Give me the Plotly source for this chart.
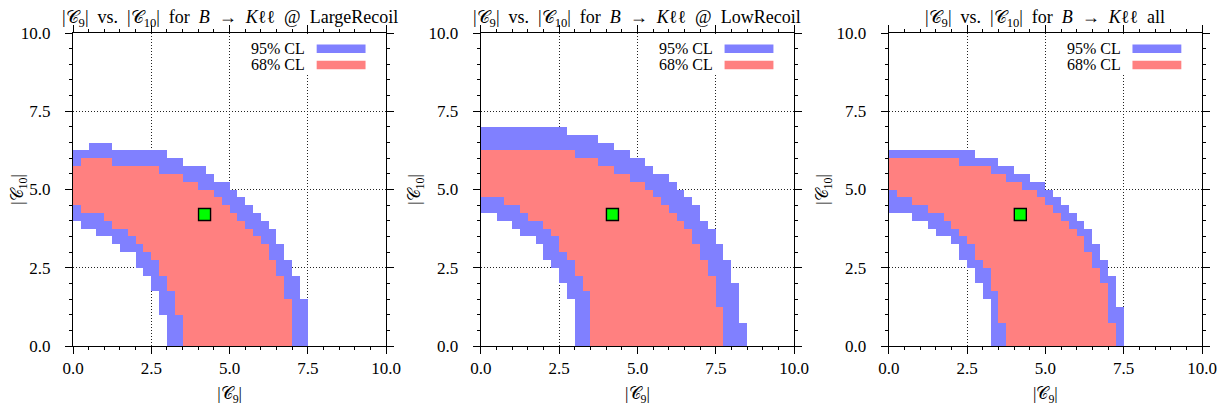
import numpy as np
import plotly.graph_objects as go
from plotly.subplots import make_subplots

# ---------------- data ----------------
bin_width = 0.25  # grid step of the scan in |C9| and |C10|

NB = "\u00a0"
panel_titles = [
    f"|𝒞<sub>9</sub>|{NB} vs.{NB} |𝒞<sub>10</sub>|{NB} for{NB} <i>B</i>{NB} →{NB} <i>K</i>ℓℓ{NB} @{NB} LargeRecoil",
    f"|𝒞<sub>9</sub>|{NB} vs.{NB} |𝒞<sub>10</sub>|{NB} for{NB} <i>B</i>{NB} →{NB} <i>K</i>ℓℓ{NB} @{NB} LowRecoil",
    f"|𝒞<sub>9</sub>|{NB} vs.{NB} |𝒞<sub>10</sub>|{NB} for{NB} <i>B</i>{NB} →{NB} <i>K</i>ℓℓ{NB} all",
]

# LargeRecoil: per |C9| bin (0.25 wide, starting at 0) upper / lower |C10| bound
large_95_hi = [6.25, 6.25, 6.5, 6.5, 6.5, 6.25, 6.25, 6.25, 6.25, 6.25, 6.25, 6.25, 6.0, 6.0, 5.75,
               5.75, 5.75, 5.5, 5.25, 5.25, 5.0, 4.75, 4.5, 4.25, 4.0, 3.75, 3.25, 2.75, 2.25, 1.5]
large_95_lo = [4.0, 3.75, 3.75, 3.5, 3.5, 3.25, 3.0, 3.0, 2.5, 2.25, 1.75, 1.0, 0, 0, 0,
               0, 0, 0, 0, 0, 0, 0, 0, 0, 0, 0, 0, 0, 0, 0]
large_68_hi = [5.75, 6.0, 6.0, 6.0, 6.0, 5.75, 5.75, 5.75, 5.75, 5.75, 5.75, 5.5, 5.5, 5.5,
               5.25, 5.25, 5.0, 5.0, 4.75, 4.5, 4.25, 4.0, 3.75, 3.5, 3.25, 2.75, 2.25, 1.5]
large_68_lo = [4.5, 4.25, 4.25, 4.25, 4.0, 3.75, 3.75, 3.5, 3.25, 3.0, 2.75, 2.25, 1.75, 1.0,
               0, 0, 0, 0, 0, 0, 0, 0, 0, 0, 0, 0, 0, 0]

# LowRecoil
low_95_hi = [7.0, 7.0, 7.0, 7.0, 7.0, 7.0, 7.0, 7.0, 7.0, 7.0, 7.0, 6.75, 6.75, 6.75, 6.75, 6.5, 6.5,
             6.25, 6.25, 6.0, 6.0, 5.75, 5.5, 5.5, 5.25, 5.0, 4.75, 4.5, 4.0, 3.75, 3.25, 2.75, 2.0, 0.75]
low_95_lo = [4.25, 4.25, 4.0, 4.0, 3.75, 3.5, 3.5, 3.25, 2.75, 2.5, 2.0, 1.5, 0, 0, 0, 0, 0,
             0, 0, 0, 0, 0, 0, 0, 0, 0, 0, 0, 0, 0, 0, 0, 0, 0]
low_68_hi = [6.25, 6.25, 6.25, 6.25, 6.25, 6.25, 6.25, 6.25, 6.25, 6.25, 6.25, 6.25, 6.0, 6.0, 6.0,
             5.75, 5.75, 5.5, 5.5, 5.25, 5.25, 5.0, 4.75, 4.5, 4.25, 4.0, 3.75, 3.25, 2.75, 2.25, 1.25]
low_68_lo = [4.75, 4.75, 4.75, 4.5, 4.5, 4.25, 4.0, 4.0, 3.75, 3.5, 3.0, 2.75, 2.25, 1.75, 0,
             0, 0, 0, 0, 0, 0, 0, 0, 0, 0, 0, 0, 0, 0, 0, 0]

# all
all_95_hi = [6.25, 6.25, 6.25, 6.25, 6.25, 6.25, 6.25, 6.25, 6.25, 6.25, 6.25, 6.0, 6.0, 6.0, 5.75,
             5.75, 5.5, 5.5, 5.25, 5.25, 5.0, 4.75, 4.5, 4.25, 4.0, 3.75, 3.25, 2.75, 2.25, 1.25]
all_95_lo = [4.25, 4.25, 4.25, 4.0, 4.0, 3.75, 3.5, 3.5, 3.25, 2.75, 2.5, 2.0, 1.5, 0, 0,
             0, 0, 0, 0, 0, 0, 0, 0, 0, 0, 0, 0, 0, 0, 0]
all_68_hi = [6.0, 6.0, 6.0, 6.0, 6.0, 6.0, 6.0, 6.0, 6.0, 5.75, 5.75, 5.75, 5.75, 5.5, 5.5,
             5.25, 5.25, 5.0, 5.0, 4.75, 4.5, 4.25, 4.0, 3.75, 3.5, 3.0, 2.5, 2.0, 0.75]
all_68_lo = [5.0, 4.75, 4.75, 4.5, 4.5, 4.25, 4.25, 4.0, 3.75, 3.5, 3.25, 2.75, 2.5, 1.75, 0.75,
             0, 0, 0, 0, 0, 0, 0, 0, 0, 0, 0, 0, 0, 0]

best_c9 = [4.2, 4.2, 4.2]
best_c10 = [4.2, 4.2, 4.2]

tick_vals = [0, 2.5, 5.0, 7.5, 10.0]
tick_text = ["0.0", "2.5", "5.0", "7.5", "10.0"]
legend_labels = ["95% CL", "68% CL"]

panels = [
    (large_95_lo, large_95_hi, large_68_lo, large_68_hi),
    (low_95_lo, low_95_hi, low_68_lo, low_68_hi),
    (all_95_lo, all_95_hi, all_68_lo, all_68_hi),
]

# ---------------- styling ----------------
BLUE = "#8080ff"
RED = "#ff8080"
GREEN = "#00ff00"
FONT = '"Liberation Serif", "Times New Roman", serif'
FS = 17

fig = make_subplots(rows=1, cols=3)

n_bins = 40
centers = (np.arange(n_bins) + 0.5) * bin_width  # bin centres for both axes


def cl_grid(lo95, hi95, lo68, hi68):
    """Build the confidence-level map (1 = 95 % CL, 2 = 68 % CL) on the scan grid."""
    z = np.full((n_bins, n_bins), np.nan)
    for lo, hi, level in ((lo95, hi95, 1.0), (lo68, hi68, 2.0)):
        for i, (a, b) in enumerate(zip(lo, hi)):
            inside = (centers > a) & (centers < b)
            z[inside, i] = level
    return z


for p, (lo95, hi95, lo68, hi68) in enumerate(panels):
    col = p + 1
    z = cl_grid(lo95, hi95, lo68, hi68)
    fig.add_trace(go.Heatmap(
        x=centers, y=centers, z=z, zmin=1, zmax=2,
        colorscale=[[0, BLUE], [0.5, BLUE], [0.5, RED], [1, RED]],
        showscale=False, hoverinfo="skip", zsmooth=False), row=1, col=col)
    fig.add_trace(go.Scatter(
        x=[best_c9[p]], y=[best_c10[p]], mode="markers",
        marker=dict(symbol="square", size=12, color=GREEN,
                    line=dict(color="black", width=1.4)),
        showlegend=False, hoverinfo="skip"), row=1, col=col)

# page body has an 8 px margin, so the figure is 8 px smaller than the window
W, H = 1221, 404
ML, MT = 65, 25
PW = 313.3           # side of one square panel in px
GAP = 408 - PW       # px between panels
MR = W - ML - (3 * PW + 2 * GAP)
MB = H - MT - PW
plot_w = W - ML - MR
doms = [((k * (PW + GAP)) / plot_w, (k * (PW + GAP) + PW) / plot_w) for k in range(3)]
doms[-1] = (doms[-1][0], 1.0)

axis_common = dict(
    range=[0, 10], tickvals=tick_vals, ticktext=tick_text,
    ticks="outside", ticklen=7, tickwidth=1, tickcolor="black",
    minor=dict(dtick=0.5, tick0=0, ticks="outside", ticklen=3, tickwidth=1,
               tickcolor="black", showgrid=False),
    showline=True, linecolor="black", linewidth=1.3, mirror="allticks",
    showgrid=True, gridcolor="#222222", griddash="1px,2px", gridwidth=1,
    zeroline=False, tickfont=dict(family=FONT, size=FS, color="black"),
    fixedrange=True, automargin=False,
)

for p in range(3):
    sfx = "" if p == 0 else str(p + 1)
    fig.update_layout(**{
        f"xaxis{sfx}": dict(axis_common, domain=list(doms[p]), ticklabelstandoff=-1,
                            title=dict(text="|𝒞<sub>9</sub>|", standoff=10,
                                       font=dict(family=FONT, size=FS, color="black"))),
        f"yaxis{sfx}": dict(axis_common, domain=[0, 1], ticklabelstandoff=11,
                            title=dict(text="|𝒞<sub>10</sub>|", standoff=3,
                                       font=dict(family=FONT, size=FS, color="black"))),
    })
    xr = "x" + sfx
    yr = "y" + sfx
    # title
    fig.add_annotation(xref=f"{xr} domain", yref=f"{yr} domain", x=0.5, y=1,
                       yshift=15, yanchor="middle", xanchor="center", showarrow=False,
                       text=panel_titles[p], font=dict(family=FONT, size=18, color="black"))
    # opaque key box
    fig.add_shape(type="rect", xref=xr, yref=yr, x0=5.35, x1=9.95, y0=8.67, y1=9.97,
                  fillcolor="white", line=dict(width=0), layer="between")
    for k, (lab, color) in enumerate(zip(legend_labels, (BLUE, RED))):
        yc = 9.5 - 0.52 * k
        fig.add_shape(type="rect", xref=xr, yref=yr, x0=7.78, x1=9.34,
                      y0=yc - 0.135, y1=yc + 0.135, fillcolor=color,
                      line=dict(width=0), layer="between")
        fig.add_annotation(xref=xr, yref=yr, x=7.47, y=yc + 0.02, xanchor="right",
                           yanchor="middle", showarrow=False, text=lab,
                           font=dict(family=FONT, size=16, color="black"))

fig.update_layout(
    width=W, height=H,
    margin=dict(l=ML, r=MR, t=MT, b=MB, autoexpand=False),
    paper_bgcolor="white", plot_bgcolor="white",
    font=dict(family=FONT, size=FS, color="black"),
)

fig.write_html("out.html")
